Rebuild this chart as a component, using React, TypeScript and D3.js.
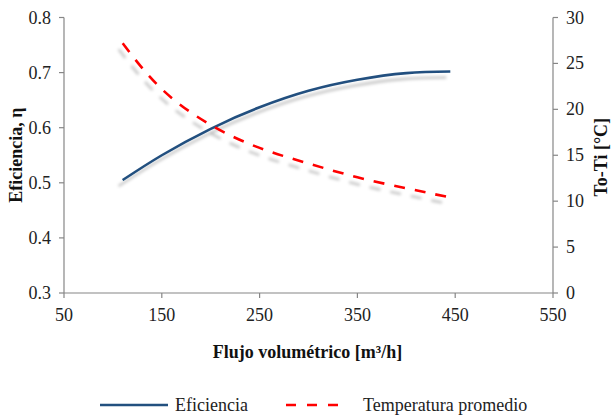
import React from "react";
import * as d3 from "d3";

const flujo = [110, 150, 200, 250, 300, 350, 400, 445];
const eficiencia = [0.505, 0.55, 0.598, 0.637, 0.667, 0.687, 0.699, 0.702];
const temperatura = [27.2, 22.2, 18.3, 15.8, 14.1, 12.6, 11.4, 10.4];
const xTicks = [50, 150, 250, 350, 450, 550];
const leftTicks = [0.3, 0.4, 0.5, 0.6, 0.7, 0.8];
const rightTicks = [0, 5, 10, 15, 20, 25, 30];

const W = 612;
const H = 416;
const m = { left: 64, right: 59, top: 17.5, bottom: 123 };
const font = "'Times New Roman', 'Liberation Serif', 'DejaVu Serif', serif";
const fs = 18;
const axisColor = "#868686";
const blue = "#22507f";
const red = "#ff0000";

const App = () => {
  const x = d3.scaleLinear().domain([50, 550]).range([m.left, W - m.right]);
  const yL = d3.scaleLinear().domain([0.3, 0.8]).range([H - m.bottom, m.top]);
  const yR = d3.scaleLinear().domain([0, 30]).range([H - m.bottom, m.top]);

  const effLine = d3
    .line<number>()
    .x((_, i) => x(flujo[i]))
    .y((d) => yL(d))
    .curve(d3.curveNatural);
  const tempLine = d3
    .line<number>()
    .x((_, i) => x(flujo[i]))
    .y((d) => yR(d))
    .curve(d3.curveNatural);

  const x0 = m.left;
  const x1 = W - m.right;
  const yb = H - m.bottom;

  return (
    <svg
      width={W}
      height={H}
      style={{ position: "absolute", left: 0, top: 0, background: "#fff", fontFamily: font }}
    >
      <defs>
        <filter id="shadow" x="-10%" y="-10%" width="120%" height="140%">
          <feDropShadow dx={-4} dy={6} stdDeviation={1.8} floodColor="#000" floodOpacity={0.22} />
        </filter>
      </defs>

      {/* axes */}
      <g stroke={axisColor} strokeWidth={1.2}>
        <line x1={x0} x2={x0} y1={m.top} y2={yb} />
        <line x1={x1} x2={x1} y1={m.top} y2={yb} />
        <line x1={x0} x2={x1} y1={yb} y2={yb} />
        {xTicks.map((t) => (
          <line key={"xt" + t} x1={x(t)} x2={x(t)} y1={yb} y2={yb + 5} />
        ))}
        {leftTicks.map((t) => (
          <line key={"lt" + t} x1={x0 - 5} x2={x0} y1={yL(t)} y2={yL(t)} />
        ))}
        {rightTicks.map((t) => (
          <line key={"rt" + t} x1={x1} x2={x1 + 5} y1={yR(t)} y2={yR(t)} />
        ))}
      </g>

      <g fontSize={fs} fill="#222">
        {xTicks.map((t) => (
          <text key={"xl" + t} x={x(t)} y={yb + 28} textAnchor="middle">
            {t}
          </text>
        ))}
        {leftTicks.map((t) => (
          <text key={"ll" + t} x={x0 - 13} y={yL(t) + 6} textAnchor="end">
            {t.toFixed(1)}
          </text>
        ))}
        {rightTicks.map((t) => (
          <text key={"rl" + t} x={x1 + 13} y={yR(t) + 6} textAnchor="start">
            {t}
          </text>
        ))}
      </g>

      {/* axis titles */}
      <g fontSize={fs} fontWeight="bold" fill="#111">
        <text x={(x0 + x1) / 2 - 1} y={358} textAnchor="middle">
          Flujo volumétrico [m³/h]
        </text>
        <text transform={`translate(22,${(m.top + yb) / 2}) rotate(-90)`} textAnchor="middle">
          Eficiencia, η
        </text>
        <text transform={`translate(${W - 5},${(m.top + yb) / 2 + 2}) rotate(-90)`} textAnchor="middle">
          To-Ti [°C]
        </text>
      </g>

      {/* series */}
      <path
        d={effLine(eficiencia) ?? ""}
        fill="none"
        stroke={blue}
        strokeWidth={2.6}
        filter="url(#shadow)"
      />
      <path
        d={tempLine(temperatura) ?? ""}
        fill="none"
        stroke={red}
        strokeWidth={2.6}
        strokeDasharray="11,10"
        filter="url(#shadow)"
      />

      {/* legend */}
      <g fontSize={fs} fill="#222">
        <line x1={100} x2={168} y1={405} y2={405} stroke={blue} strokeWidth={2.6} />
        <text x={175} y={411}>Eficiencia</text>
        <line x1={286} x2={346} y1={405} y2={405} stroke={red} strokeWidth={2.6} strokeDasharray="10,11" />
        <text x={363} y={411}>Temperatura promedio</text>
      </g>
    </svg>
  );
};

export default App;
